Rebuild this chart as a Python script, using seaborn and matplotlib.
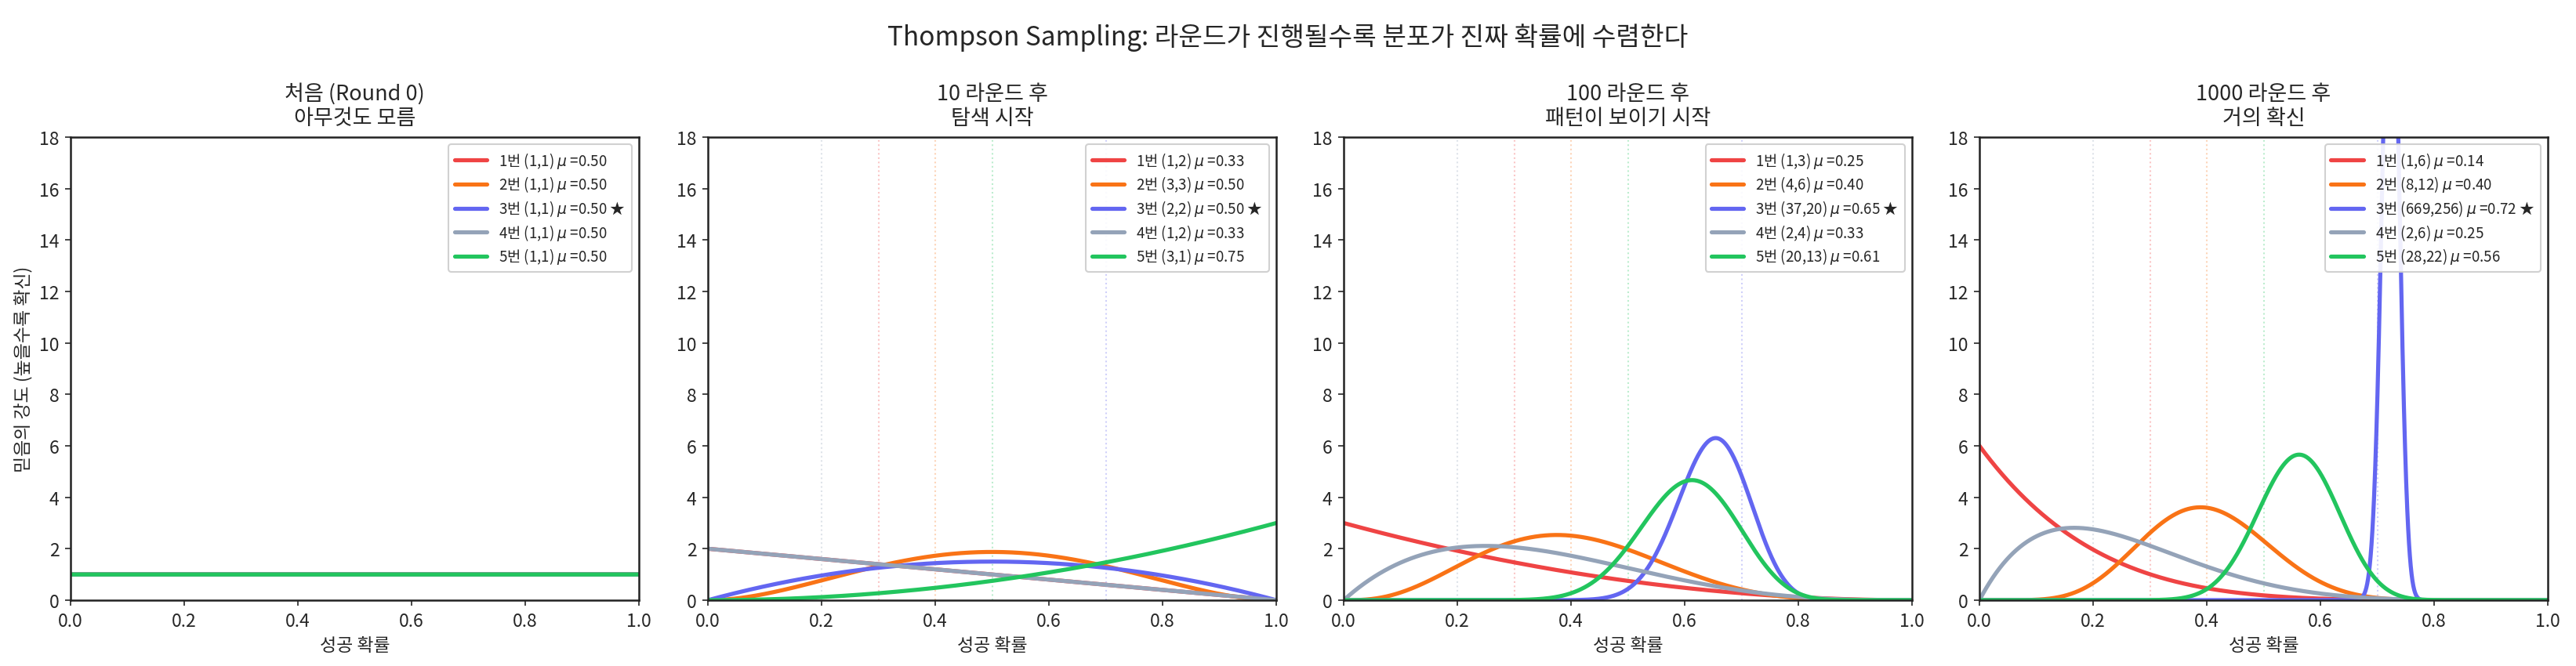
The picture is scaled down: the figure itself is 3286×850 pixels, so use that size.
import math

import matplotlib
import numpy as np
import pandas as pd

matplotlib.use("Agg")
import matplotlib.pyplot as plt
import seaborn as sns

# 팔(arm)별 Beta(alpha, beta) 파라미터, 라운드별
arm_names = ["1번", "2번", "3번", "4번", "5번"]
arm_colors = ["#ef4444", "#f97316", "#6366f1", "#94a3b8", "#22c55e"]
true_probs = [0.3, 0.4, 0.7, 0.2, 0.5]
best_arm = 2

round_titles = [
    "처음 (Round 0)\n아무것도 모름",
    "10 라운드 후\n탐색 시작",
    "100 라운드 후\n패턴이 보이기 시작",
    "1000 라운드 후\n거의 확신",
]
alphas_r0 = [1, 1, 1, 1, 1]
betas_r0 = [1, 1, 1, 1, 1]
alphas_r10 = [1, 3, 2, 1, 3]
betas_r10 = [2, 3, 2, 2, 1]
alphas_r100 = [1, 4, 37, 2, 20]
betas_r100 = [3, 6, 20, 4, 13]
alphas_r1000 = [1, 8, 669, 2, 28]
betas_r1000 = [6, 12, 256, 6, 22]

rounds = [
    (alphas_r0, betas_r0),
    (alphas_r10, betas_r10),
    (alphas_r100, betas_r100),
    (alphas_r1000, betas_r1000),
]


def beta_pdf(x, a, b):
    ln_b = math.lgamma(a) + math.lgamma(b) - math.lgamma(a + b)
    with np.errstate(divide="ignore", invalid="ignore"):
        t1 = np.zeros_like(x) if a == 1 else (a - 1) * np.log(x)
        t2 = np.zeros_like(x) if b == 1 else (b - 1) * np.log1p(-x)
    return np.exp(t1 + t2 - ln_b)


sns.set_style("ticks")
plt.rcParams["font.family"] = ["Noto Sans CJK KR", "DejaVu Sans"]
plt.rcParams["axes.unicode_minus"] = False

W, H, DPI = 3286, 851, 150
fig = plt.figure(figsize=(W / DPI, H / DPI), dpi=DPI)

x = np.linspace(0, 1, 2000)
lefts = [90, 903, 1714, 2525]

for i, (title, (alphas, betas)) in enumerate(zip(round_titles, rounds)):
    ax = fig.add_axes([lefts[i] / W, 84 / H, 725 / W, 591 / H])

    if i > 0:
        for p, c in zip(true_probs, arm_colors):
            ax.axvline(p, color=c, linestyle=":", linewidth=1, alpha=0.3)

    for j, (name, a, b) in enumerate(zip(arm_names, alphas, betas)):
        mu = a / (a + b)
        label = f"{name} ({a},{b}) $\\mu$ ={mu:.2f}"
        if j == best_arm:
            label += " ★"
        df = pd.DataFrame({"x": x, "pdf": beta_pdf(x, a, b)})
        sns.lineplot(data=df, x="x", y="pdf", ax=ax, color=arm_colors[j],
                     linewidth=2.5, label=label)

    ax.set_xlim(0, 1)
    ax.set_ylim(0, 18)
    ax.set_yticks(range(0, 19, 2))
    ax.set_title(title, fontsize=13, pad=8)
    ax.set_xlabel("성공 확률", fontsize=11)
    ax.set_ylabel("믿음의 강도 (높을수록 확신)" if i == 0 else "", fontsize=11)
    ax.tick_params(labelsize=11)
    ax.legend(loc="upper right", fontsize=9, framealpha=0.9,
              handlelength=2.2, borderpad=0.4, labelspacing=0.3)
    for s in ax.spines.values():
        s.set_linewidth(1.2)
        s.set_color("#222222")

fig.suptitle("Thompson Sampling: 라운드가 진행될수록 분포가 진짜 확률에 수렴한다",
             fontsize=16, y=0.965)

plt.savefig("out.png", dpi=DPI)
plt.close()
